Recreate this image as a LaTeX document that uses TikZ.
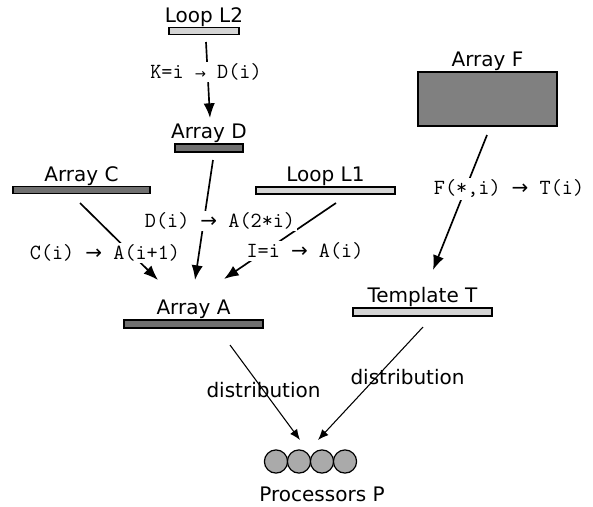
\documentclass[tikz,border=0pt]{standalone}
\usepackage{fontspec}
\setmainfont{DejaVu Sans}
\usetikzlibrary{positioning,arrows.meta}

\definecolor{barlight}{RGB}{212,212,212}
\definecolor{bardark}{RGB}{112,112,112}
\definecolor{arrayF}{RGB}{128,128,128}
\definecolor{procgray}{RGB}{170,170,170}

\newcommand\maparrow{{\rmfamily\fontsize{15}{17}\selectfont →}}

\tikzset{
  bar/.style={draw, line width=1.1pt, inner sep=0pt, minimum height=5.5pt},
  lightbar/.style={bar, fill=barlight},
  darkbar/.style={bar, fill=bardark},
  lbl/.style={inner sep=0pt, font=\fontsize{15}{18}\selectfont},
  code/.style={fill=white, inner sep=1.5pt, font=\fontsize{16.2}{18}\selectfont\ttfamily},
  flow/.style={line width=1.25pt, -{Latex[length=11pt,width=8.5pt]}},
  distrib/.style={line width=0.8pt, -{Latex[length=8pt,width=6.5pt]}},
  proc/.style={circle, draw, line width=0.9pt, fill=procgray, minimum size=17.4pt, inner sep=0pt}
}

\begin{document}
\begin{tikzpicture}[x=0.75pt,y=-0.75pt]
\useasboundingbox (0,0) rectangle (593,507);

% the bars
\node[lightbar, minimum width=52.5pt] (loopL2) at (204,31) {};
\node[darkbar, minimum width=51pt, minimum height=6pt] (arrD) at (209,148) {};
\node[darkbar, minimum width=102.75pt] (arrC) at (81.5,190) {};
\node[lightbar, minimum width=104.25pt] (loopL1) at (325.5,190.5) {};
\node[bar, fill=arrayF, minimum width=104.25pt, minimum height=40.5pt] (arrF) at (487.5,99) {};
\node[darkbar, minimum width=104.25pt, minimum height=6pt] (arrA) at (193.5,324) {};
\node[lightbar, minimum width=104.25pt, minimum height=6pt] (tmplT) at (422.5,312) {};

\node[lbl, above=0pt of loopL2] {Loop L2};
\node[lbl, above=0pt of arrD] {Array D};
\node[lbl, above=0pt of arrC] {Array C};
\node[lbl, above=0pt of loopL1] {Loop L1};
\node[lbl, above=0pt of arrF] {Array F};
\node[lbl, above=0pt of arrA] {Array A};
\node[lbl, above=0pt of tmplT] {Template T};

% processors
\foreach \i/\x in {1/276,2/299,3/322,4/345}
  \node[proc] (p\i) at (\x,461.5) {};
\node[lbl] (procP) at (322,494) {Processors P};

% free ends of the connectors
\coordinate (fromL2) at (206,42);
\coordinate (toD) at (210,118);
\coordinate (fromD) at (213,160);
\coordinate (fromC) at (80,203);
\coordinate (fromL1) at (336,203);
\coordinate (toA1) at (158,280);
\coordinate (toA2) at (195,280);
\coordinate (toA3) at (224,279);
\coordinate (fromF) at (487,135);
\coordinate (toT) at (433,270);
\coordinate (fromA) at (230,345);
\coordinate (fromT) at (423,327);
\coordinate (toP1) at (300,440);
\coordinate (toP2) at (318,440);

\draw[flow] (fromL2) -- (toD);
\draw[flow] (fromD) -- (toA2);
\draw[flow] (fromC) -- (toA1);
\draw[flow] (fromL1) -- (toA3);
\draw[flow] (fromF) -- (toT);
\draw[distrib] (fromA) -- (toP1);
\draw[distrib] (fromT) -- (toP2);

% mapping labels
\node[code] (mapK) at (206,72) {K=i {\rmfamily\fontsize{10}{12}\selectfont→} D(i)};
\node[code] (mapD) at (220,221) {D(i) \maparrow{} A(2*i)};
\node[code] (mapC) at (105,253) {C(i) \maparrow{} A(i+1)};
\node[code] (mapI) at (305,251) {I=i \maparrow{} A(i)};
\node[code] (mapF) at (509,189) {F(*,i) \maparrow{} T(i)};
\node[lbl] (distA) at (263.5,390) {distribution};
\node[lbl] (distT) at (407.5,377) {distribution};
\end{tikzpicture}
\end{document}
